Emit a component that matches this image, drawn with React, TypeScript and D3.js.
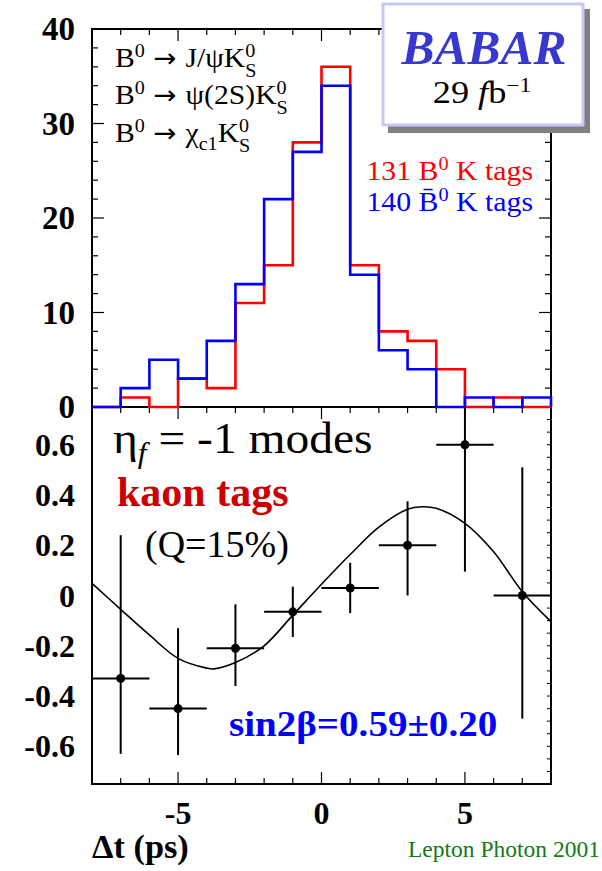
import React, { useEffect } from 'react';
import * as d3 from 'd3';

// histogram: dt bins of 1 ps, events per bin
const binLow = [-8, -7, -6, -5, -4, -3, -2, -1, 0, 1, 2, 3, 4, 5, 6, 7];
const binWidth = 1;
const redCounts = [0, 1, 0, 3, 2, 11, 15, 28, 36, 15, 8, 7, 4, 0, 1, 0];
const blueCounts = [0, 2, 5, 3, 7, 13, 22, 27, 34, 14, 6, 4, 0, 1, 0, 1];

// asymmetry points (bin centre, value, error bar ends)
const asymX = [-7, -5, -3, -1, 1, 3, 5, 7];
const asymY = [-0.33, -0.45, -0.21, -0.065, 0.03, 0.2, 0.6, 0.0];
const asymLo = [-0.63, -0.635, -0.36, -0.165, -0.07, 0.0, 0.095, -0.49];
const asymHi = [0.24, -0.13, -0.035, 0.035, 0.13, 0.375, 1.1, 0.51];
const asymHalfWidth = 1;

// fit curve
const fitX = [-8, -7, -6, -5, -4, -3.75, -3, -2, -1, 0, 1, 2, 3, 3.5, 4, 5, 6, 7, 8];
const fitY = [0.048, -0.055, -0.157, -0.25, -0.289, -0.292, -0.267, -0.2, -0.078, 0.045, 0.163, 0.272, 0.343, 0.353, 0.347, 0.287, 0.174, 0.015, -0.104];

const histTicks = [0, 10, 20, 30, 40];
const histTickLabels = ['0', '10', '20', '30', '40'];
const asymTicks = [-0.6, -0.4, -0.2, 0, 0.2, 0.4, 0.6];
const asymTickLabels = ['-0.6', '-0.4', '-0.2', '0', '0.2', '0.4', '0.6'];
const dtTicks = [-5, 0, 5];
const dtTickLabels = ['-5', '0', '5'];

const SERIF = "'Liberation Serif', 'Times New Roman', Times, serif";

// text stretched sideways a little, the reference glyphs are wide
const at = (x: number, y: number, sx: number) => `translate(${x},${y}) scale(${sx},1)`;

export default function App() {
    useEffect(() => {
        document.body.style.margin = '0';
    }, []);

    const W = 602, H = 871;
    const left = 92, right = 551;
    const topY = 29, midY = 407, botY = 784;

    const x = d3.scaleLinear().domain([-8, 8]).range([left, right]);
    const yTop = d3.scaleLinear().domain([0, 40]).range([midY, topY]);
    const yBot = d3.scaleLinear().domain([-0.75, 0.75]).range([botY, midY]);

    const histPath = (counts: number[]) => {
        const pts: [number, number][] = binLow.map((b, i) => [b, counts[i]]);
        const last = binLow[binLow.length - 1] + binWidth;
        pts.push([last, counts[counts.length - 1]]);
        pts.push([last, 0]);
        return d3.line<[number, number]>()
            .x(d => x(d[0]))
            .y(d => yTop(d[1]))
            .curve(d3.curveStepAfter)(pts) || '';
    };

    const fitPath = d3.line<number>()
        .x((d, i) => x(fitX[i]))
        .y(d => yBot(d))
        .curve(d3.curveCatmullRom.alpha(0.5))(fitY) || '';

    const minorX = d3.range(-7, 8, 1);
    const minorTopY = d3.range(2, 40, 2);
    const minorBotY = d3.range(-0.7, 0.75, 0.05);

    // K^0_S : superscript 0 stacked over subscript S
    const k0s = (
        <>
            <tspan dy={-10} fontSize={19}>0</tspan>
            <tspan dx={-9.5} dy={20} fontSize={19}>S</tspan>
        </>
    );
    const b0arrow = (
        <>
            B<tspan dy={-10} fontSize={19}>0</tspan>
            <tspan dy={10} fontFamily="'DejaVu Sans', sans-serif" fontSize={26}> → </tspan>
        </>
    );

    return (
        <svg width={W} height={H} style={{ display: 'block', background: '#fff' }} fontFamily={SERIF}>
            <defs>
                <clipPath id="botclip">
                    <rect x={left} y={midY} width={right - left} height={botY - midY} />
                </clipPath>
            </defs>

            {/* frames */}
            <rect x={left} y={topY} width={right - left} height={botY - topY} fill="none" stroke="#000" strokeWidth={2} />
            <line x1={left} x2={right} y1={midY} y2={midY} stroke="#000" strokeWidth={2} />

            {/* top panel ticks */}
            {minorTopY.map(v => {
                const len = v % 10 === 0 ? 12 : 6;
                return (
                    <g key={'ty' + v} stroke="#000" strokeWidth={1.2}>
                        <line x1={left} x2={left + len} y1={yTop(v)} y2={yTop(v)} />
                        <line x1={right} x2={right - len} y1={yTop(v)} y2={yTop(v)} />
                    </g>
                );
            })}
            {minorX.map(v => {
                const len = v % 5 === 0 ? 12 : 6;
                return (
                    <g key={'tx' + v} stroke="#000" strokeWidth={1.2}>
                        <line x1={x(v)} x2={x(v)} y1={topY} y2={topY + len} />
                        <line x1={x(v)} x2={x(v)} y1={midY} y2={midY + len} />
                        <line x1={x(v)} x2={x(v)} y1={botY} y2={botY - len} />
                    </g>
                );
            })}
            {minorBotY.map((v, i) => (
                <line key={'by' + i} x1={right} x2={right - 4} y1={yBot(v)} y2={yBot(v)} stroke="#000" strokeWidth={1} />
            ))}

            {/* histograms */}
            <path d={histPath(redCounts)} fill="none" stroke="#ff0000" strokeWidth={2.6} />
            <path d={histPath(blueCounts)} fill="none" stroke="#0000ff" strokeWidth={2.6} />

            {/* asymmetry fit + points */}
            <g clipPath="url(#botclip)">
                <path d={fitPath} fill="none" stroke="#000" strokeWidth={1.6} />
                {asymX.map((v, i) => (
                    <g key={'p' + i} stroke="#000" strokeWidth={2}>
                        <line x1={x(v - asymHalfWidth)} x2={x(v + asymHalfWidth)} y1={yBot(asymY[i])} y2={yBot(asymY[i])} />
                        <line x1={x(v)} x2={x(v)} y1={yBot(asymLo[i])} y2={yBot(asymHi[i])} />
                        <circle cx={x(v)} cy={yBot(asymY[i])} r={4.5} fill="#000" stroke="none" />
                    </g>
                ))}
            </g>

            {/* axis labels */}
            <g fontWeight="bold" fontSize={33} textAnchor="end">
                {histTicks.map((v, i) => (
                    <text key={'hl' + i} x={75} y={yTop(v) + 11}>{histTickLabels[i]}</text>
                ))}
            </g>
            <g fontWeight="bold" fontSize={32} textAnchor="end">
                {asymTicks.map((v, i) => (
                    <text key={'al' + i} x={75} y={yBot(v) + 11}>{asymTickLabels[i]}</text>
                ))}
            </g>
            <g fontWeight="bold" fontSize={32} textAnchor="middle">
                {dtTicks.map((v, i) => (
                    <text key={'dl' + i} x={x(v)} y={824}>{dtTickLabels[i]}</text>
                ))}
            </g>
            <text transform={at(92, 858, 1.04)} fontWeight="bold" fontSize={33}>Δt (ps)</text>
            <text x={408} y={857} fontSize={23.5} fill="#137a13">Lepton Photon 2001</text>

            {/* decay mode legend */}
            <g fontSize={28}>
                <text transform={at(115, 67, 1.06)}>
                    {b0arrow}J/ψK{k0s}
                </text>
                <text transform={at(115, 104, 1.06)}>
                    {b0arrow}ψ(2S)K{k0s}
                </text>
                <text transform={at(115, 142, 1.06)}>
                    {b0arrow}χ<tspan dy={8} fontSize={19}>c1</tspan><tspan dy={-8}>K</tspan>{k0s}
                </text>
            </g>

            {/* tag counts */}
            <g fontSize={28} textAnchor="end">
                <text transform={at(533, 180, 1.065)} fill="#ff0000">
                    {'131 B'}<tspan dy={-10} fontSize={19}>0</tspan><tspan dy={10}> K tags</tspan>
                </text>
                <text transform={at(533, 211, 1.065)} fill="#0000ff">
                    {'140 B\u0304'}<tspan dy={-10} fontSize={19}>0</tspan><tspan dy={10}> K tags</tspan>
                </text>
            </g>

            {/* BaBar box */}
            <rect x={388} y={9} width={202} height={124} fill="#808080" />
            <rect x={383} y={4} width={200} height={121} fill="#fff" stroke="#c8c8f4" strokeWidth={3} />
            <text transform={at(484, 64, 1.03)} textAnchor="middle" fontSize={48} fontWeight="bold" fontStyle="italic" fill="#3838d0">BABAR</text>
            <text transform={at(482, 103, 1.17)} textAnchor="middle" fontSize={31}>
                29 <tspan fontStyle="italic">f</tspan>b<tspan dy={-11} fontSize={20}>−1</tspan>
            </text>

            {/* bottom panel annotations */}
            <text transform={at(113, 453, 1.08)} fontSize={44}>
                η<tspan dy={10} fontSize={29} fontStyle="italic">f</tspan><tspan dy={-10}> = -1 modes</tspan>
            </text>
            <text x={117} y={506} fontSize={42} fontWeight="bold" fill="#cc0000">kaon tags</text>
            <text x={145} y={557} fontSize={38}>(Q=15%)</text>
            <text transform={at(229, 736, 1.085)} fontSize={36} fontWeight="bold" fill="#0000ff">sin2β=0.59±0.20</text>
        </svg>
    );
}
